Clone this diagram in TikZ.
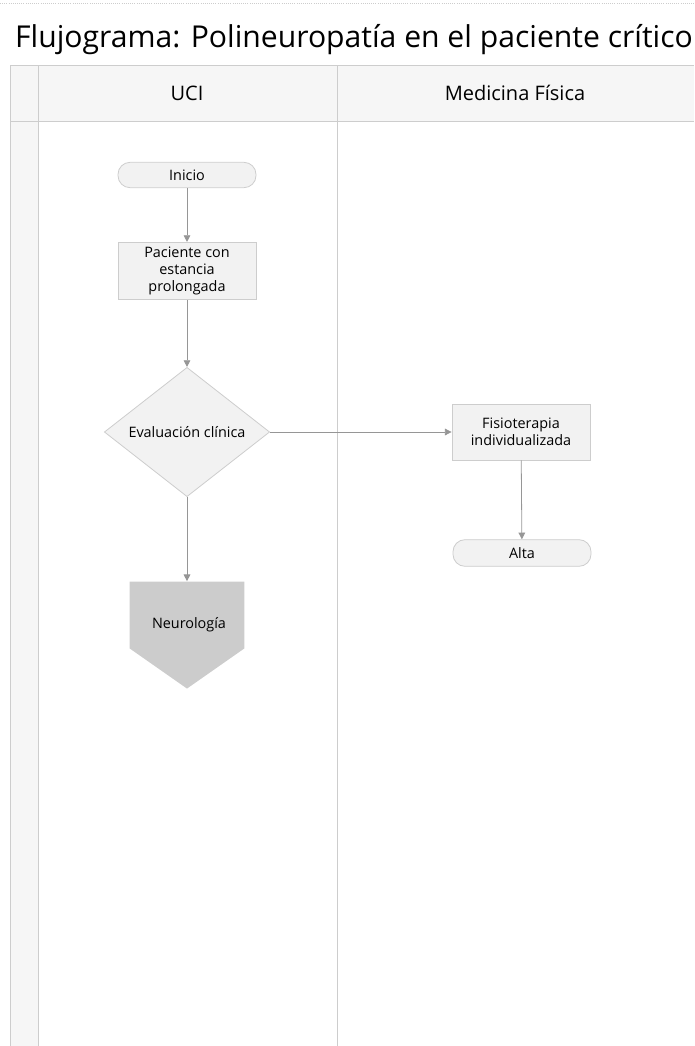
\documentclass[tikz,border=0pt]{standalone}
\usepackage{fontspec}
\setmainfont{Open Sans}
\usetikzlibrary{arrows.meta}
\usetikzlibrary{shapes.geometric}
\usetikzlibrary{shapes.symbols}
\definecolor{fill1}{RGB}{242, 242, 242}
\definecolor{line1}{RGB}{205, 205, 205}
\definecolor{arrow1}{RGB}{150, 150, 150}
\definecolor{neuro1}{RGB}{204, 204, 204}
\definecolor{head1}{RGB}{246, 246, 246}

\begin{document}
\begin{tikzpicture}[x=0.75pt, y=-0.75pt, line width=0.6pt,
  box/.style={rectangle, fill=fill1, draw=line1, minimum width=103.5pt, minimum height=43pt, inner sep=2pt, align=center, font=\fontsize{10.8}{12.5}\selectfont},
  term/.style={box, rounded corners=9pt, minimum height=19pt},
  decide/.style={diamond, fill=fill1, draw=line1, minimum width=124pt, minimum height=97pt, inner sep=0pt, font=\fontsize{10.8}{12.5}\selectfont},
  offpage/.style={signal, signal to=south, signal pointer angle=110, fill=neuro1, draw=none, minimum width=86pt, minimum height=52.5pt, font=\fontsize{10.8}{12.5}\selectfont},
  flow/.style={draw=arrow1, -{Triangle[width=5pt,length=5pt]}}]
  \useasboundingbox (0,0) rectangle (694,1046);

  % pool and lanes
  \fill[head1] (10,65) rectangle (694,121);
  \fill[head1] (10,121) rectangle (38,1046);
  \draw[line1, densely dotted] (0,3) -- (694,3);
  \draw[line1] (10,1046) -- (10,65) -- (694,65);
  \draw[line1] (10,121) -- (694,121);
  \draw[line1] (38,65) -- (38,1046);
  \draw[line1] (337,65) -- (337,1046);

  \node[font=\fontsize{22.6}{26}\selectfont] (title) at (354,40) {Flujograma: Polineuropatía en el paciente crítico};
  \node[font=\fontsize{15}{17}\selectfont] (uci) at (187,93) {UCI};
  \node[font=\fontsize{15}{17}\selectfont] (mf) at (515,93) {Medicina Física};

  % UCI lane
  \node[term] (inicio) at (187,175) {Inicio};
  \node[box] (paciente) at (187,271) {Paciente con\\estancia\\prolongada};
  \node[decide] (eval) at (187,432) {Evaluación clínica};
  \node[offpage] (neuro) at (187,615) {};
  \node[font=\fontsize{10.8}{12.5}\selectfont] (neurotxt) at (189,625) {Neurología};

  % Medicina Fisica lane
  \node[box, minimum height=42pt] (fisio) at (521,432) {Fisioterapia\\individualizada};
  \node[term, minimum height=20pt] (alta) at (522,553) {Alta};

  \draw[flow] (inicio) -- (paciente);
  \draw[flow] (paciente) -- (eval);
  \draw[flow] (eval) -- (fisio);
  \draw[flow] (eval) -- (neuro);
  \draw[flow] (fisio) -- (alta);
\end{tikzpicture}
\end{document}
